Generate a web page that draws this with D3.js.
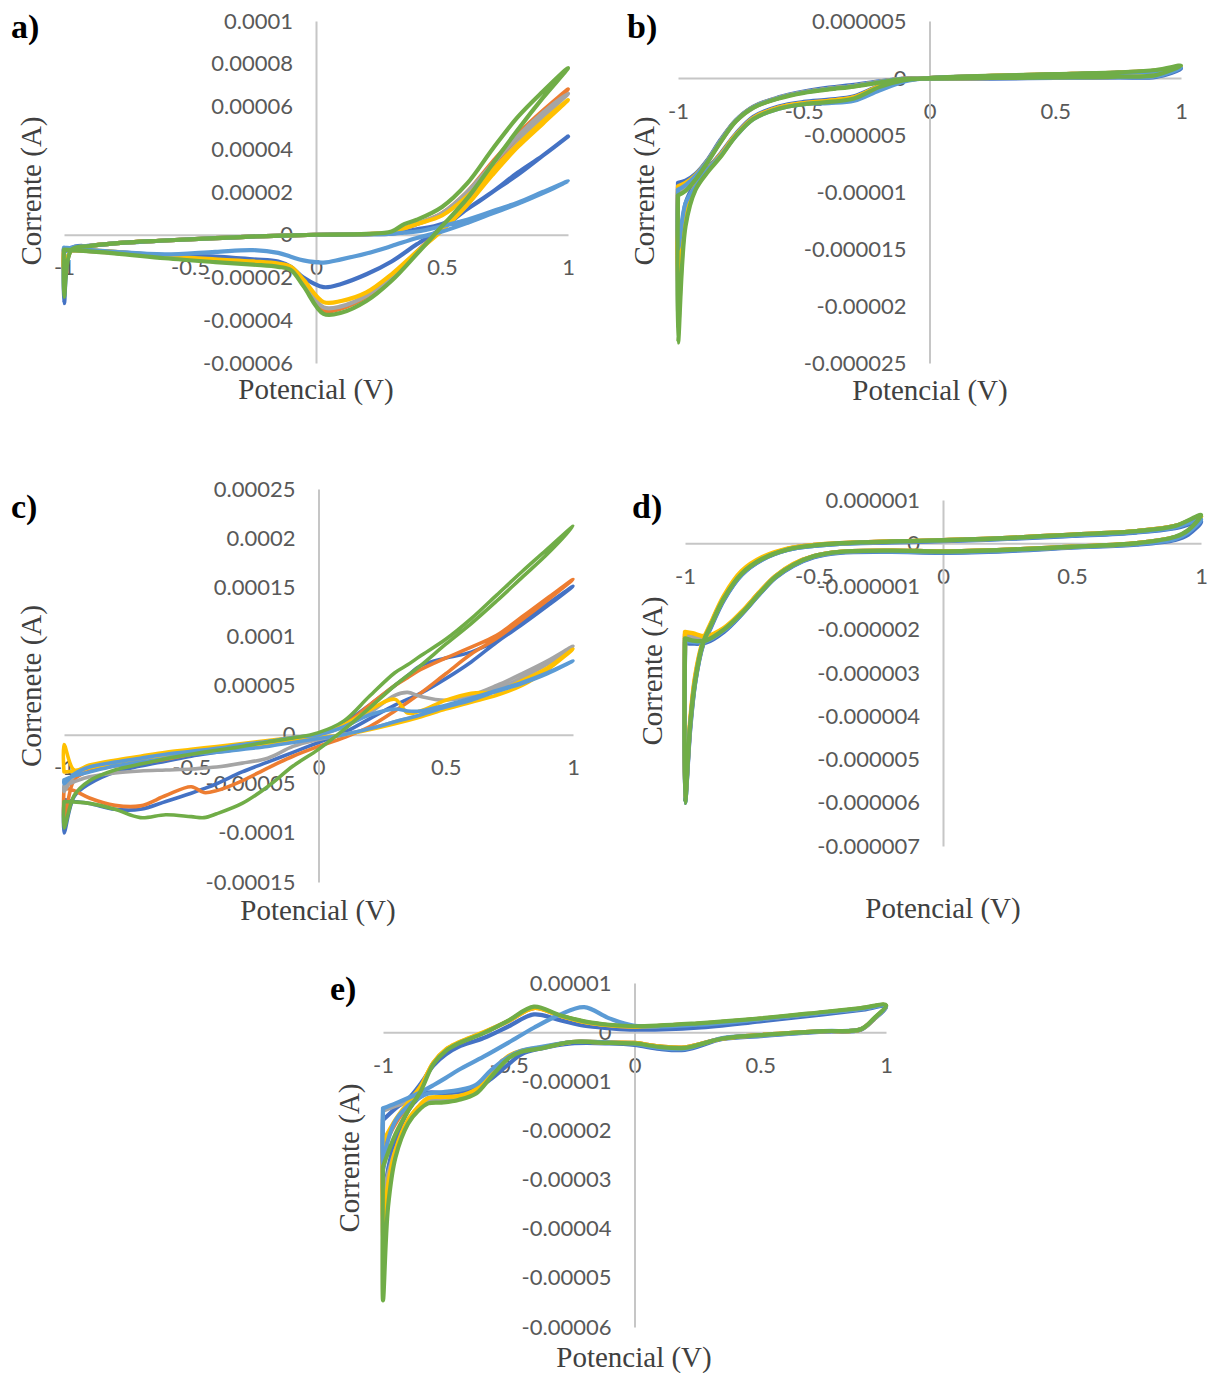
<!DOCTYPE html>
<html>
<head>
<meta charset="utf-8">
<script src="https://cdn.jsdelivr.net/npm/d3@7"></script>
<style>
  body { margin: 0; background: #fff; }
  .tick text { font-family: Lato, "Open Sans", sans-serif; font-size: 22px; fill: #595959; }
  .axis-title { font-family: "Liberation Serif", serif; font-size: 29px; fill: #404040; }
  .panel-letter { font-family: "Liberation Serif", serif; font-size: 34px; font-weight: bold; fill: #000; }
</style>
</head>
<body>
<svg id="fig" width="1213" height="1373"></svg>
<script>
// series order as in the workbook: 1..6
const seriesColors = ["#4472C4", "#ED7D31", "#A5A5A5", "#FFC000", "#5B9BD5", "#70AD47"];
const xTicks = [-1, -0.5, 0, 0.5, 1];

// ---- a) currents in microampere
const aYTicks = [0.0001, 0.00008, 0.00006, 0.00004, 0.00002, 0, -0.00002, -0.00004, -0.00006];
const potA = [-1, -1, -0.97, -0.9, -0.8, -0.6, -0.4, -0.2, 0, 0.2, 0.3, 0.35, 0.4, 0.5, 0.6, 0.7, 0.8, 0.9, 1,
              0.9, 0.8, 0.7, 0.6, 0.5, 0.4, 0.3, 0.2, 0.1, 0.03, -0.05, -0.1, -0.15, -0.25, -0.4, -0.6, -0.8, -1];
const aBlue = [-6.5, -32, -6.5, -5.2, -4, -2.7, -1.6, -0.6, 0, 0.2, 0.5, 1.5, 2.5, 5, 12, 20, 29, 37, 46,
               37, 28, 20, 12, 3, -4.5, -12.5, -18.5, -23, -24.5, -20, -15, -12.5, -11.5, -10.2, -9.5, -8, -6.5];
const aOrange = [-7, -18, -7, -5.3, -4, -2.7, -1.6, -0.6, 0, 0.3, 1, 3, 5, 10, 20, 34, 47, 58, 68,
                 57, 44, 30, 15, 3, -8, -20, -29, -34.5, -35.5, -23, -16, -14.5, -13.5, -12.5, -10.5, -8.5, -7];
const aGray = [-7, -15, -7, -5.3, -4, -2.7, -1.6, -0.6, 0, 0.3, 1, 3, 5, 10, 20, 33, 46, 57, 66,
               55, 43, 29, 14, 2.5, -8, -19.5, -28.5, -33.5, -34, -22, -15.5, -14, -13, -12, -10.5, -8.5, -7];
const aYellow = [-7, -17, -7, -5.3, -4, -2.7, -1.6, -0.6, 0, 0.3, 1, 3, 5, 9, 18, 30, 42, 53, 63,
                 52, 41, 28, 14, 2, -8, -18.5, -27, -31, -31.5, -21, -15, -13.5, -12.5, -11.5, -10, -8, -7];
const aLightBlue = [-6, -8, -6, -5.2, -4, -2.7, -1.6, -0.6, 0, 0.2, 0.5, 1, 1.5, 4, 7, 11, 15, 20, 25,
                    19.5, 14.5, 10, 5.5, 1.5, -1.5, -5.3, -8.8, -11.5, -13, -12, -10.3, -8.5, -7.2, -8, -9.2, -8, -6];
const aGreen = [-7, -29, -7, -5.3, -4, -2.7, -1.6, -0.6, 0, 0.4, 1.5, 5, 7, 13, 24, 40, 55, 67, 78,
                64, 49, 33, 17, 4, -9, -21.5, -31, -36.5, -37, -24, -16.5, -15, -14, -12.8, -11, -8.7, -7];

// ---- b)
const bYTicks = [0.000005, 0, -0.000005, -0.00001, -0.000015, -0.00002, -0.000025];
const potB = [-1, -1, -0.97, -0.93, -0.88, -0.83, -0.77, -0.7, -0.6, -0.5, -0.4, -0.3, -0.2, -0.1, 0, 0.25, 0.5, 0.75, 0.9, 1,
              0.9, 0.75, 0.5, 0.25, 0, -0.1, -0.2, -0.3, -0.4, -0.5, -0.6, -0.7, -0.77, -0.83, -0.88, -0.93, -0.97, -1];
const bBlue = [-9.2, -17.5, -11, -9.2, -7.9, -6.6, -4.9, -3.4, -2.5, -2.1, -1.9, -1.6, -0.7, -0.2, 0, 0.15, 0.3, 0.45, 0.6, 0.8,
               0.1, 0.05, 0, -0.05, -0.08, -0.05, -0.3, -0.6, -0.85, -1.2, -1.7, -2.5, -3.7, -5.4, -7.1, -8.4, -9, -9.2];
const bOrange = [-9.6, -19, -12, -9.5, -8, -6.7, -5, -3.5, -2.6, -2.2, -2, -1.7, -0.75, -0.2, 0, 0.18, 0.32, 0.48, 0.65, 1,
                 0.2, 0.1, 0.03, 0, -0.05, -0.08, -0.35, -0.7, -0.95, -1.25, -1.75, -2.55, -3.75, -5.5, -7.2, -8.6, -9.3, -9.6];
const bGray = [-10.1, -22, -12.5, -9.7, -8.1, -6.8, -5, -3.5, -2.6, -2.2, -2, -1.7, -0.75, -0.2, 0, 0.18, 0.32, 0.48, 0.65, 1,
               0.2, 0.1, 0.03, 0, -0.05, -0.08, -0.35, -0.7, -0.95, -1.25, -1.75, -2.6, -3.8, -5.6, -7.3, -8.8, -9.7, -10.1];
const bYellow = [-9.5, -18, -11.5, -9.4, -8, -6.7, -5, -3.5, -2.6, -2.2, -2, -1.7, -0.75, -0.2, 0, 0.18, 0.32, 0.48, 0.65, 1,
                 0.2, 0.1, 0.03, 0, -0.05, -0.08, -0.35, -0.7, -0.95, -1.25, -1.75, -2.55, -3.75, -5.5, -7.2, -8.5, -9.2, -9.5];
const bLightBlue = [-9.8, -15, -11, -9.5, -8, -6.8, -5.1, -3.6, -2.7, -2.3, -2.2, -2, -1.1, -0.3, 0, 0.15, 0.3, 0.45, 0.6, 0.9,
                    0.15, 0.08, 0.02, 0, -0.05, -0.08, -0.35, -0.7, -0.95, -1.25, -1.75, -2.55, -3.75, -5.5, -7.2, -8.6, -9.4, -9.8];
const bGreen = [-10.3, -23.2, -13, -9.8, -8.2, -6.9, -5.1, -3.6, -2.7, -2.3, -2.1, -1.8, -0.8, -0.2, 0, 0.2, 0.35, 0.5, 0.7, 1.1,
                0.25, 0.12, 0.05, 0, -0.05, -0.1, -0.4, -0.75, -1, -1.3, -1.8, -2.6, -3.8, -5.6, -7.3, -8.9, -9.9, -10.3];

// ---- c)
const cYTicks = [0.00025, 0.0002, 0.00015, 0.0001, 0.00005, 0, -0.00005, -0.0001, -0.00015];
const potC = [-1, -1, -0.96, -0.9, -0.8, -0.7, -0.6, -0.5, -0.4, -0.3, -0.2, -0.1, 0, 0.1, 0.2, 0.3, 0.35, 0.4, 0.5, 0.6, 0.7, 0.8, 0.9, 1,
              0.9, 0.8, 0.7, 0.6, 0.5, 0.4, 0.3, 0.2, 0.1, 0, -0.1, -0.2, -0.3, -0.4, -0.45, -0.5, -0.6, -0.7, -0.8, -0.9, -0.96, -1];
const cBlue = [-66, -100, -63, -50, -38, -32, -27, -22, -18, -14, -10, -5, 0, 12, 30, 50, 60, 70, 78, 84, 96, 115, 133, 151,
               131, 112, 94, 74, 57, 42, 30, 16, 2, -8, -18, -28, -38, -50, -55, -59.6, -68, -76, -76, -70, -68, -66];
const cOrange = [-54, -90, -46, -37, -32, -29, -25, -20, -16, -12, -8, -4, 0, 10, 30, 50, 58, 66, 78, 89, 101, 120, 139, 158,
                 137, 117, 98, 82, 62, 42, 24, 8, -3, -12, -22, -34, -47, -57, -59, -53, -62, -72.5, -72, -64.5, -57, -54];
const cGray = [-52, -58, -42, -33, -27, -23, -19, -16, -13, -10, -7, -3, 0, 8, 22, 40, 43, 39, 35, 40, 50, 62, 75, 90,
               72, 58, 46, 36, 28, 20, 13, 6, 0, -5, -12, -24, -29, -33, -34, -35, -36, -37, -39, -43, -48, -52];
const cYellow = [-38, -10, -36, -31, -26, -22, -18, -15, -12, -9, -6, -3, 0, 10, 25, 36, 22, 24, 35, 42, 44, 55, 68, 87,
                 66, 50, 40, 33, 26, 18, 11, 5, 0, -3, -6, -9, -12, -15, -17, -18, -21, -25, -29, -34, -37, -38];
const cLightBlue = [-46, -50, -40, -33, -28, -24, -20, -17, -14, -10, -7, -3, 0, 8, 20, 26, 24, 24, 30, 37, 45, 53, 63, 75,
                    62, 52, 44, 35, 28, 20, 13, 6, 0, -4, -8, -12, -15, -18, -19, -20, -24, -28, -32, -38, -42, -46];
const cGreen = [-68, -95, -62, -47, -36, -30, -24.5, -20, -16, -12, -7.5, -3.5, 2, 14, 39, 63, 71, 80, 97, 118, 142, 166, 189, 212,
                184, 160, 136, 113, 92, 70, 50, 27, 5, -15, -32, -53, -70, -80.5, -84.5, -83.5, -81.5, -84.5, -76, -70, -68.5, -68];

// ---- d)
const dYTicks = [0.000001, 0, -0.000001, -0.000002, -0.000003, -0.000004, -0.000005, -0.000006, -0.000007];
const potD = [-1, -1, -0.98, -0.96, -0.93, -0.9, -0.85, -0.78, -0.7, -0.6, -0.5, -0.4, -0.2, 0, 0.25, 0.5, 0.75, 0.9, 1,
              0.95, 0.9, 0.75, 0.5, 0.25, 0, -0.2, -0.4, -0.5, -0.58, -0.65, -0.71, -0.78, -0.85, -0.92, -0.97, -1];
const dBlue = [-2.3, -6, -4.3, -3.2, -2.35, -1.95, -1.32, -0.73, -0.38, -0.15, -0.06, -0.01, 0.02, 0.05, 0.1, 0.17, 0.25, 0.35, 0.5,
               0.2, 0.08, -0.03, -0.1, -0.18, -0.22, -0.2, -0.22, -0.32, -0.52, -0.8, -1.17, -1.64, -2.05, -2.3, -2.32, -2.3];
const dOrange = [-2.1, -5.9, -4.2, -3.1, -2.3, -1.88, -1.26, -0.68, -0.35, -0.13, -0.04, 0, 0.04, 0.07, 0.12, 0.2, 0.28, 0.4, 0.62,
                 0.28, 0.14, 0, -0.08, -0.15, -0.19, -0.17, -0.2, -0.3, -0.49, -0.77, -1.13, -1.6, -1.98, -2.2, -2.15, -2.1];
const dGray = [-2.15, -5.9, -4.2, -3.1, -2.3, -1.88, -1.26, -0.68, -0.35, -0.13, -0.04, 0, 0.04, 0.07, 0.12, 0.2, 0.28, 0.4, 0.62,
               0.28, 0.14, 0, -0.08, -0.15, -0.19, -0.17, -0.2, -0.3, -0.49, -0.77, -1.13, -1.6, -1.98, -2.2, -2.18, -2.15];
const dYellow = [-2.05, -5.9, -4.1, -3.05, -2.25, -1.85, -1.22, -0.64, -0.32, -0.12, -0.04, 0, 0.04, 0.07, 0.12, 0.2, 0.28, 0.4, 0.62,
                 0.28, 0.14, 0, -0.08, -0.15, -0.19, -0.17, -0.2, -0.3, -0.48, -0.76, -1.12, -1.58, -1.96, -2.15, -2.08, -2.05];
const dLightBlue = [-2.25, -6, -4.25, -3.18, -2.32, -1.92, -1.3, -0.72, -0.37, -0.15, -0.06, -0.01, 0.03, 0.06, 0.11, 0.18, 0.26, 0.37, 0.55,
                    0.25, 0.1, -0.02, -0.09, -0.17, -0.21, -0.19, -0.21, -0.31, -0.51, -0.79, -1.16, -1.63, -2.02, -2.27, -2.28, -2.25];
const dGreen = [-2.2, -6, -4.2, -3.16, -2.3, -1.9, -1.28, -0.7, -0.36, -0.14, -0.05, 0, 0.04, 0.07, 0.12, 0.2, 0.28, 0.4, 0.65,
                0.3, 0.15, 0, -0.08, -0.15, -0.19, -0.17, -0.2, -0.3, -0.5, -0.78, -1.15, -1.62, -2, -2.25, -2.25, -2.2];

// ---- e)
const eYTicks = [0.00001, 0, -0.00001, -0.00002, -0.00003, -0.00004, -0.00005, -0.00006];
const potE = [-1, -0.95, -0.9, -0.85, -0.8, -0.75, -0.7, -0.6, -0.5, -0.4, -0.3, -0.2, -0.1, 0, 0.25, 0.5, 0.75, 0.9, 1,
              0.95, 0.9, 0.75, 0.5, 0.35, 0.2, 0.1, 0, -0.1, -0.25, -0.37, -0.45, -0.5, -0.57, -0.63, -0.7, -0.76, -0.82, -0.86, -0.9, -0.95, -0.98, -1, -1];
const eBlue = [-17.9, -15.5, -13.6, -10.5, -6.8, -4.5, -3, -1.2, 1.2, 3.6, 2.5, 1.3, 0.8, 0.5, 0.9, 2.2, 3.6, 4.5, 5.2,
               2.5, 0.5, 0.1, -0.8, -1.4, -3.6, -3.4, -2.6, -2.3, -2.3, -3.3, -4.5, -6.5, -9.5, -11.5, -12.2, -12.4, -12.3, -13.5, -16, -22, -28, -35.5, -17.9];
const eOrange = [-23.5, -18.5, -14.8, -11.2, -6.3, -3.6, -2.2, -0.1, 2.3, 4.9, 3.4, 2.1, 1.4, 1.1, 1.7, 2.7, 4, 4.8, 5.4,
                 2.6, 0.6, 0.2, -0.6, -1.3, -3.1, -2.9, -2.2, -2.1, -2, -3.2, -3.9, -5, -8.6, -12, -13.5, -13.9, -14.1, -15.6, -18.2, -24.5, -33, -45, -23.5];
const eGray = [-16, -15, -14, -11.2, -6.3, -3.6, -2.2, -0.1, 2.3, 5, 3.4, 2.1, 1.4, 1.1, 1.7, 2.7, 4, 4.8, 5.4,
               2.6, 0.6, 0.2, -0.6, -1.3, -3.1, -2.9, -2.2, -2.1, -2, -3.2, -3.9, -5, -8.6, -12, -13.5, -13.9, -14.1, -15.6, -18.2, -24, -29, -33, -16];
const eYellow = [-22.3, -17.8, -14.3, -11, -6.2, -3.5, -2.1, 0, 2.3, 4.9, 3.4, 2.1, 1.4, 1.1, 1.7, 2.7, 4, 4.8, 5.4,
                 2.6, 0.6, 0.2, -0.6, -1.3, -3.1, -2.9, -2.2, -2.1, -2, -3.1, -3.8, -4.8, -8.2, -11.6, -13, -13.2, -13.4, -15.2, -17.8, -24, -31, -40.3, -22.3];
const eLightBlue = [-15.5, -14.5, -13.4, -12.2, -10.8, -9.3, -7.7, -5, -2.1, 0.9, 3.5, 5.1, 2.8, 1.3, 1.5, 2.6, 3.9, 4.7, 5.3,
                    2.6, 0.6, 0.2, -0.7, -1.2, -3.4, -3.2, -2.4, -2.1, -2, -3, -3.8, -5, -7.7, -10.7, -11.8, -12.2, -12.5, -13.5, -15, -18, -22, -28, -15.5];
const eGreen = [-27.4, -20.7, -16, -12, -6.5, -3.8, -2.3, -0.2, 2.4, 5.2, 3.5, 2.2, 1.5, 1.2, 1.8, 2.8, 4.1, 4.9, 5.5,
                2.7, 0.6, 0.2, -0.6, -1.3, -3.2, -3, -2.3, -2.2, -2, -3.3, -4, -5.3, -9.1, -12.5, -13.8, -14.3, -14.5, -16, -18.6, -25.4, -35.6, -54.6, -27.4];

class CVPanel {
	constructor(potential, currents, config) {
		this.potential = potential;
		this.currents = currents;
		this.config = config;
	}

	create_scales() {
		let c = this.config;
		this.xScale = d3.scaleLinear().domain([-1, 1]).range(c.xRange);
		this.yScale = d3.scaleLinear()
		                .domain([d3.min(c.yTicks), d3.max(c.yTicks)])
		                .range(c.yRange);
		return this;
	}

	create_axes() {
		const canvas = d3.select("#fig");
		let xScale = this.xScale, yScale = this.yScale;
		this.g = canvas.append("g").attr("class", "panel");

		let xAxis = d3.axisBottom(xScale).tickValues(xTicks).tickFormat(String)
		              .tickSize(0).tickPadding(25);
		let yAxis = d3.axisLeft(yScale).tickValues(this.config.yTicks).tickFormat(String)
		              .tickSize(0).tickPadding(23);

		this.g.append("g")
		      .attr("transform", `translate(0,${yScale(0)})`)
		      .call(xAxis);
		this.g.append("g")
		      .attr("transform", `translate(${xScale(0)},0)`)
		      .call(yAxis);

		this.g.selectAll(".domain").attr("stroke", "#c6c6c6").attr("stroke-width", 2);
		return this;
	}

	add_axis_labels() {
		let c = this.config;
		this.g.append("text")
		      .attr("class", "axis-title")
		      .attr("text-anchor", "middle")
		      .attr("x", c.xTitle[0])
		      .attr("y", c.xTitle[1])
		      .text("Potencial (V)");
		this.g.append("text")
		      .attr("class", "axis-title")
		      .attr("text-anchor", "middle")
		      .attr("transform", `translate(${c.yTitle[0]},${c.yTitle[1]}) rotate(-90)`)
		      .text(c.yLabel);
		this.g.append("text")
		      .attr("class", "panel-letter")
		      .attr("x", c.letterPos[0])
		      .attr("y", c.letterPos[1])
		      .text(c.letter);
		return this;
	}

	plot_curves() {
		let xScale = this.xScale, yScale = this.yScale;
		let E = this.potential;
		let line = d3.line()
		             .defined(d => d[1] != null)
		             .x(d => xScale(d[0]))
		             .y(d => yScale(d[1] * 1e-6))
		             .curve(d3.curveCatmullRom.alpha(0.5));

		this.currents.forEach((cur, i) => {
			let pts = E.map((e, k) => [e, cur[k]]);
			this.g.append("path")
			      .attr("d", line(pts))
			      .attr("fill", "none")
			      .attr("stroke", seriesColors[i])
			      .attr("stroke-width", this.config.lineWidth)
			      .attr("stroke-linejoin", "round")
			      .attr("stroke-linecap", "round");
		});
		return this;
	}

	generate() {
		this.create_scales()
		    .create_axes()
		    .add_axis_labels()
		    .plot_curves();
	}
}

new CVPanel(potA, [aBlue, aOrange, aGray, aYellow, aLightBlue, aGreen], {
	xRange: [64, 568], yRange: [363, 21], yTicks: aYTicks, lineWidth: 4.2,
	yLabel: "Corrente (A)", yTitle: [41, 191], xTitle: [316, 399], letter: "a)", letterPos: [11, 38]
}).generate();

new CVPanel(potB, [bBlue, bOrange, bGray, bYellow, bLightBlue, bGreen], {
	xRange: [678, 1181], yRange: [363, 21], yTicks: bYTicks, lineWidth: 4.2,
	yLabel: "Corrente (A)", yTitle: [654, 191], xTitle: [930, 400], letter: "b)", letterPos: [627, 38]
}).generate();

new CVPanel(potC, [cBlue, cOrange, cGray, cYellow, cLightBlue, cGreen], {
	xRange: [64, 573], yRange: [882, 489], yTicks: cYTicks, lineWidth: 3.6,
	yLabel: "Correnete (A)", yTitle: [41, 686], xTitle: [318, 920], letter: "c)", letterPos: [11, 518]
}).generate();

new CVPanel(potD, [dBlue, dOrange, dGray, dYellow, dLightBlue, dGreen], {
	xRange: [685, 1201], yRange: [846, 500], yTicks: dYTicks, lineWidth: 4.4,
	yLabel: "Corrente (A)", yTitle: [662, 671], xTitle: [943, 918], letter: "d)", letterPos: [632, 518]
}).generate();

new CVPanel(potE, [eBlue, eOrange, eGray, eYellow, eLightBlue, eGreen], {
	xRange: [383, 886], yRange: [1327, 983], yTicks: eYTicks, lineWidth: 4.2,
	yLabel: "Corrente (A)", yTitle: [359, 1158], xTitle: [634, 1367], letter: "e)", letterPos: [330, 1000]
}).generate();
</script>
</body>
</html>
